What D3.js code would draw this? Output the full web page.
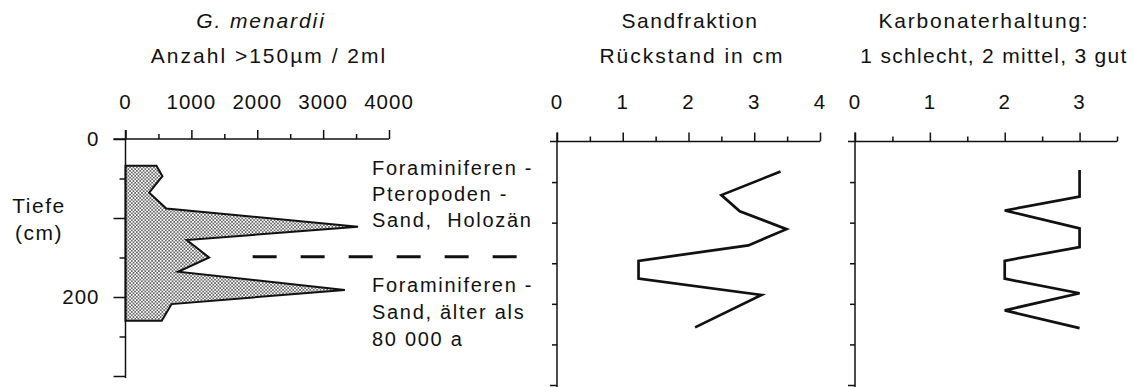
<!DOCTYPE html>
<html>
<head>
<meta charset="utf-8">
<script src="https://cdn.jsdelivr.net/npm/d3@7"></script>
<style>
  html, body { margin: 0; padding: 0; background: #fff; }
  svg { display: block; }
  text { font-family: "Liberation Sans", Arial, Helvetica, sans-serif; fill: #111; }
</style>
</head>
<body>
<svg id="chart" width="1134" height="387"></svg>
<script>
// Core data: G. menardii counts per 2 ml (>150 µm) against depth (cm)
const menardiiDepth = [34, 47, 68, 88, 111, 128, 150, 168, 191, 209, 230];
const menardiiCount = [470, 560, 360, 620, 3530, 930, 1270, 800, 3330, 700, 550];

// Sand fraction residue (cm)
const sandDepth = [37, 66, 86, 108, 128, 147, 169, 189, 229];
const sandResidue = [3.40, 2.50, 2.78, 3.49, 2.91, 1.24, 1.24, 3.11, 2.10];

// Carbonate preservation: 1 poor, 2 medium, 3 good
const carbDepth = [35, 68, 85, 107, 130, 147, 169, 187, 208, 230];
const carbScore = [3, 3, 2, 3, 3, 2, 2, 3, 2, 3];

// Axis ticks and labels
const countTicks = [0, 1000, 2000, 3000, 4000];
const countMinor = [500, 1500, 2500, 3500];
const sandTicks = [0, 1, 2, 3, 4];
const sandMinor = [0.5, 1.5, 2.5, 3.5];
const carbTicks = [0, 1, 2, 3];
const carbMinor = [0.5, 1.5, 2.5, 3.5];
const depthMajor = [0, 100, 200, 300];
const depthMinor = [50, 150, 250];
const depthLabels = [0, 200];
const boundaryDepth = 149;

const svg = d3.select("#chart");

// stippled fill for the count profile
const defs = svg.append("defs");
const pat = defs.append("pattern")
  .attr("id", "stipple").attr("patternUnits", "userSpaceOnUse")
  .attr("width", 3.4).attr("height", 3.4);
pat.append("rect").attr("width", 3.4).attr("height", 3.4).attr("fill", "#fff");
pat.append("circle").attr("cx", 0.85).attr("cy", 0.85).attr("r", 0.8).attr("fill", "#222");
pat.append("circle").attr("cx", 2.55).attr("cy", 2.55).attr("r", 0.8).attr("fill", "#222");

// scales
const x1 = d3.scaleLinear().domain([0, 4000]).range([125.5, 389]);
const x2 = d3.scaleLinear().domain([0, 4]).range([557, 820]);
const x3 = d3.scaleLinear().domain([0, 3.5]).range([855, 1117]);
const y1 = d3.scaleLinear().domain([0, 300]).range([139, 376]);
const y2 = d3.scaleLinear().domain([0, 300]).range([141.5, 385]);

function title(x, y, txt, opts = {}) {
  return svg.append("text").attr("x", x).attr("y", y).attr("text-anchor", "middle")
    .style("font-size", "21px").style("letter-spacing", opts.ls || "1.9px")
    .style("font-style", opts.italic ? "italic" : "normal")
    .text(txt);
}

function xAxis(x, y, major, minor, labels, leftExt) {
  const g = svg.append("g");
  const y0 = y(0);
  g.append("g").attr("transform", `translate(0,${y0})`)
    .call(d3.axisTop(x).tickValues(major).tickSize(9).tickSizeOuter(0).tickFormat(""));
  g.append("g").attr("transform", `translate(0,${y0})`)
    .call(d3.axisTop(x).tickValues(minor).tickSize(5).tickSizeOuter(0).tickFormat(""));
  g.selectAll(".domain").remove();
  g.append("line")
    .attr("x1", x.range()[0] - leftExt).attr("x2", x.range()[1])
    .attr("y1", y0).attr("y2", y0);
  g.selectAll("line").attr("stroke", "#111").attr("stroke-width", 1.5);
  g.selectAll(".lbl").data(labels).join("text")
    .attr("class", "lbl")
    .attr("x", d => x(d)).attr("y", 109)
    .attr("text-anchor", "middle")
    .style("font-size", "20.5px").style("letter-spacing", "1px")
    .text(d => d);
}

function yAxis(x0, y, major, minor, majorLen, minorLen) {
  const g = svg.append("g").attr("transform", `translate(${x0},0)`);
  g.append("g").call(d3.axisLeft(y).tickValues(major).tickSize(majorLen).tickSizeOuter(0).tickFormat(""));
  g.append("g").call(d3.axisLeft(y).tickValues(minor).tickSize(minorLen).tickSizeOuter(0).tickFormat(""));
  g.selectAll(".domain").remove();
  g.append("line").attr("x1", 0).attr("x2", 0)
    .attr("y1", y.range()[0] - 9).attr("y2", y.range()[1] + 2);
  g.selectAll("line").attr("stroke", "#111").attr("stroke-width", 1.5);
  return g;
}

// ---- Panel 1: G. menardii ----
const area = d3.area()
  .x0(x1(0))
  .x1((d, i) => x1(menardiiCount[i]))
  .y((d, i) => y1(menardiiDepth[i]));
svg.append("path")
  .attr("d", area(menardiiDepth))
  .attr("fill", "url(#stipple)")
  .attr("stroke", "#111").attr("stroke-width", 2).attr("stroke-linejoin", "miter");

xAxis(x1, y1, countTicks, countMinor, countTicks, 12);
const ya1 = yAxis(x1(0), y1, depthMajor, depthMinor, 12, 6);
ya1.selectAll(".dl").data(depthLabels).join("text")
  .attr("class", "dl")
  .attr("x", -26).attr("y", d => y1(d)).attr("dy", "0.35em")
  .attr("text-anchor", "end")
  .style("font-size", "20.5px").style("letter-spacing", "1px")
  .text(d => d);

svg.append("text").attr("x", 39).attr("y", 213).attr("text-anchor", "middle")
  .style("font-size", "21px").style("letter-spacing", "1.5px").text("Tiefe");
svg.append("text").attr("x", 39).attr("y", 240).attr("text-anchor", "middle")
  .style("font-size", "21px").style("letter-spacing", "1.5px").text("(cm)");

title(261, 28, "G. menardii", { italic: true, ls: "1.9px" });
title(269, 63, "Anzahl >150µm / 2ml", { ls: "2px" });

// facies notes and boundary
const noteX = x1.range()[1] - 17;
const notesTop = ["Foraminiferen -", "Pteropoden -", "Sand,  Holozän"];
const notesBottom = ["Foraminiferen -", "Sand, älter als", "80 000 a"];
svg.selectAll(".nt").data(notesTop).join("text").attr("class", "nt")
  .attr("x", noteX).attr("y", (d, i) => 175 + i * 26)
  .style("font-size", "20px").style("letter-spacing", "1.7px")
  .style("white-space", "pre").text(d => d);
svg.selectAll(".nb").data(notesBottom).join("text").attr("class", "nb")
  .attr("x", noteX).attr("y", (d, i) => 292 + i * 27)
  .style("font-size", "20px").style("letter-spacing", "1.7px")
  .text(d => d);

svg.append("line")
  .attr("x1", x1(1930)).attr("x2", x2(0) - 40)
  .attr("y1", y1(boundaryDepth)).attr("y2", y1(boundaryDepth))
  .attr("stroke", "#111").attr("stroke-width", 3)
  .attr("stroke-dasharray", "24 24");

// ---- Panel 2: sand fraction ----
xAxis(x2, y2, sandTicks, sandMinor, sandTicks, 7);
yAxis(x2(0), y2, [300], [50, 100, 150, 200, 250], 7, 5);
const line2 = d3.line().x((d, i) => x2(sandResidue[i])).y((d, i) => y2(sandDepth[i]));
svg.append("path").attr("d", line2(sandDepth))
  .attr("fill", "none").attr("stroke", "#111").attr("stroke-width", 2.7)
  .attr("stroke-linejoin", "miter");
title(690, 28, "Sandfraktion", { ls: "1.6px" });
title(692, 63, "Rückstand in cm", { ls: "2px" });

// ---- Panel 3: carbonate preservation ----
xAxis(x3, y2, carbTicks, carbMinor, carbTicks, 7);
yAxis(x3(0), y2, [300], [50, 100, 150, 200, 250], 7, 5);
const line3 = d3.line().x((d, i) => x3(carbScore[i])).y((d, i) => y2(carbDepth[i]));
svg.append("path").attr("d", line3(carbDepth))
  .attr("fill", "none").attr("stroke", "#111").attr("stroke-width", 2.7)
  .attr("stroke-linejoin", "miter");
title(984, 28, "Karbonaterhaltung:", { ls: "1.8px" });
title(994, 63, "1 schlecht, 2 mittel, 3 gut", { ls: "1.3px" });
</script>
</body>
</html>
